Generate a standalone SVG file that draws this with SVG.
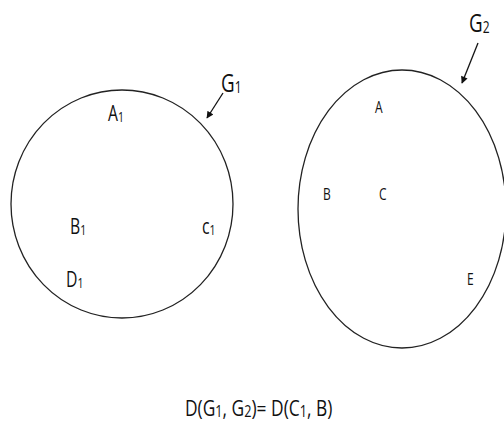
<svg xmlns="http://www.w3.org/2000/svg" width="504" height="427" viewBox="0 0 504 427">
<style>
.ring{fill:none;stroke:#222;stroke-width:1.3}
.t{font-family:"Open Sans",Lato,sans-serif;fill:#111}
.big{font-size:25px}
.mid{font-size:21px}
.sm{font-size:16px}
.eq{font-size:22px}
.edge{stroke:#111;stroke-width:1.3;fill:none}
</style>
<defs>
<marker id="ah" viewBox="0 0 10 10" refX="9" refY="5" markerWidth="8" markerHeight="7" orient="auto" markerUnits="userSpaceOnUse">
<path d="M0,0 L10,5 L0,10 z" fill="#111"/>
</marker>
</defs>
<rect width="504" height="427" fill="#fff"/>
<g id="G1">
<ellipse class="ring" cx="122" cy="204" rx="111" ry="114"/>
<text class="t big" transform="translate(221 92) scale(0.75 1)">G<tspan font-size="16" dy="1">1</tspan></text>
</g>
<g id="G2">
<ellipse class="ring" cx="402" cy="209" rx="104" ry="139"/>
<text class="t big" transform="translate(469 32) scale(0.75 1)">G<tspan font-size="16" dy="1">2</tspan></text>
</g>
<g id="A1"><text class="t mid" transform="translate(108 121) scale(0.75 1)">A<tspan font-size="14" dy="1">1</tspan></text></g>
<g id="B1"><text class="t mid" transform="translate(70 234) scale(0.75 1)">B<tspan font-size="14" dy="1">1</tspan></text></g>
<g id="C1"><text class="t mid" transform="translate(202 234) scale(0.75 1)">c<tspan font-size="14" dy="1">1</tspan></text></g>
<g id="D1"><text class="t mid" transform="translate(66 287) scale(0.75 1)">D<tspan font-size="14" dy="1">1</tspan></text></g>
<g id="A"><text class="t sm" transform="translate(375 113) scale(0.75 1)">A</text></g>
<g id="B"><text class="t sm" transform="translate(323 200) scale(0.75 1)">B</text></g>
<g id="C"><text class="t sm" transform="translate(379 200) scale(0.75 1)">C</text></g>
<g id="E"><text class="t sm" transform="translate(467 285) scale(0.75 1)">E</text></g>
<g id="connectors">
<line class="edge" x1="223" y1="93" x2="207" y2="118" marker-end="url(#ah)"/>
<line class="edge" x1="478" y1="43" x2="462" y2="83" marker-end="url(#ah)"/>
</g>
<text class="t eq" transform="translate(185 416) scale(0.79 1)">D(G<tspan font-size="16" dy="1">1</tspan><tspan dy="-1">, G</tspan><tspan font-size="16" dy="1">2</tspan><tspan dy="-1">)= D(C</tspan><tspan font-size="16" dy="1">1</tspan><tspan dy="-1">, B)</tspan></text>
</svg>
